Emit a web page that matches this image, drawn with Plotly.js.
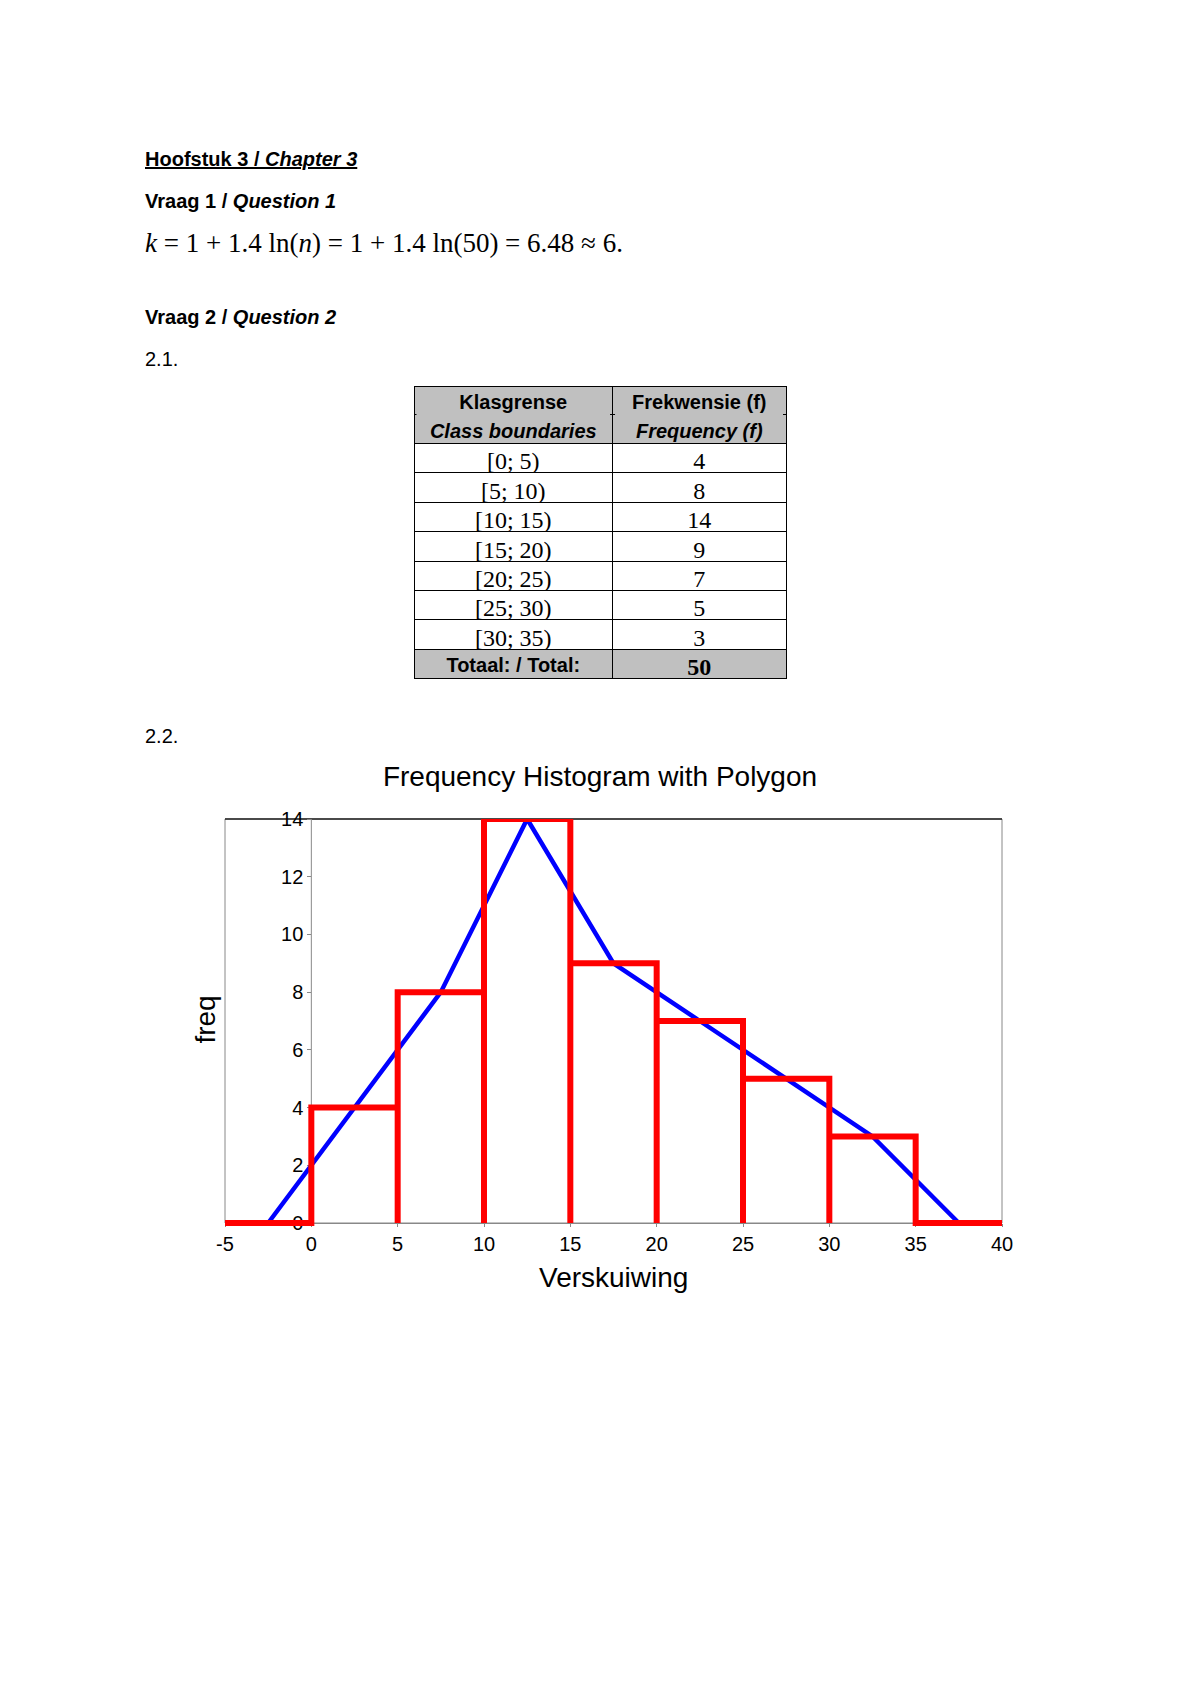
<!DOCTYPE html>
<html>
<head>
<meta charset="utf-8">
<script src="https://cdn.plot.ly/plotly-3.0.1.min.js"></script>
<style>
  html, body { margin: 0; padding: 0; background: #ffffff; }
  #page { width: 1200px; height: 1697px; }
</style>
</head>
<body>
<div id="page"></div>
<script>
// ---------------- DATA ----------------
const classLabels = ["[0; 5)", "[5; 10)", "[10; 15)", "[15; 20)", "[20; 25)", "[25; 30)", "[30; 35)"];
const classLower  = [0, 5, 10, 15, 20, 25, 30];
const classUpper  = [5, 10, 15, 20, 25, 30, 35];
const frequency   = [4, 8, 14, 9, 7, 5, 3];
const headerCol1  = ["Klasgrense", "Class boundaries"];
const headerCol2  = ["Frekwensie (f)", "Frequency (f)"];
const totalLabel  = "Totaal: / Total:";
const xTickVals   = [-5, 0, 5, 10, 15, 20, 25, 30, 35, 40];
const xTickText   = ["-5", "0", "5", "10", "15", "20", "25", "30", "35", "40"];
const yTickVals   = [0, 2, 4, 6, 8, 10, 12, 14];
const yTickText   = ["0", "2", "4", "6", "8", "10", "12", "14"];
const xRange      = [-5, 40];
const yRange      = [0, 14];

// ---------------- PAGE GEOMETRY ----------------
const W = 1200, H = 1697;
const fx = px => px / W;
const fy = py => 1 - py / H;

const SANS  = "Liberation Sans, Arial, sans-serif";
const SERIF = "Liberation Serif, Times New Roman, serif";

// plot area in pixels
const PL = 225, PR = 1002, PT = 819, PB = 1223;
const pxPerY = (PB - PT) / (yRange[1] - yRange[0]);
const PADB = 5;   // let the bottom lines show fully below the axis

// table geometry in pixels
const TL = 414, TR = 786, TT = 386;
const HEAD_ROW = 28.7, BODY_ROW = 29.4;
const COLW = [198, 173];

// ---------------- DERIVED SERIES ----------------
const total = frequency.reduce((a, b) => a + b, 0);

// histogram outline (bars as open rectangles standing on the axis)
const histX = [xRange[0], classLower[0]];
const histY = [0, 0];
for (let i = 0; i < frequency.length; i++) {
  histX.push(classLower[i], classLower[i], classUpper[i], classUpper[i]);
  histY.push(0, frequency[i], frequency[i], 0);
}
histX.push(xRange[1]);
histY.push(0);

// frequency polygon through class midpoints, closed to zero half a class outside
const w0 = classUpper[0] - classLower[0];
const wN = classUpper[classUpper.length - 1] - classLower[classLower.length - 1];
const polyX = [classLower[0] - w0 / 2];
const polyY = [0];
for (let i = 0; i < frequency.length; i++) {
  polyX.push((classLower[i] + classUpper[i]) / 2);
  polyY.push(frequency[i]);
}
polyX.push(classUpper[classUpper.length - 1] + wN / 2);
polyY.push(0);

// ---------------- TABLE ----------------
const nRows = classLabels.length + 1;
const col1 = classLabels.concat([totalLabel]);
const col2 = frequency.map(String).concat([String(total)]);
const fillCol = [], famCol1 = [], sizeCol1 = [], weightCol = [];
for (let r = 0; r < nRows; r++) {
  const isTotal = r === nRows - 1;
  fillCol.push(isTotal ? "#c0c0c0" : "#ffffff");
  famCol1.push(isTotal ? SANS : SERIF);
  sizeCol1.push(isTotal ? 20 : 24);
  weightCol.push(isTotal ? "bold" : "normal");
}
const tableBottom = TT + 2 * HEAD_ROW + nRows * BODY_ROW;

const tableTrace = {
  type: "table",
  domain: { x: [fx(TL), fx(TR)], y: [fy(tableBottom + 4), fy(TT)] },
  columnwidth: COLW,
  header: {
    values: [headerCol1, headerCol2],
    height: HEAD_ROW,
    align: "center",
    fill: { color: "#c0c0c0" },
    line: { color: "#000000", width: 1 },
    font: { family: SANS, size: 20, color: "#000000", weight: "bold",
            style: [["normal", "italic"], ["normal", "italic"]] }
  },
  cells: {
    values: [col1, col2],
    height: BODY_ROW,
    align: "center",
    fill: { color: [fillCol, fillCol] },
    line: { color: "#000000", width: 1 },
    font: { family: [famCol1, SERIF], size: [sizeCol1, 24], color: "#000000",
            weight: [weightCol, weightCol] }
  }
};

// ---------------- CHART TRACES ----------------
const polygonTrace = {
  type: "scatter", mode: "lines",
  x: polyX, y: polyY, xaxis: "x", yaxis: "y",
  line: { color: "#0000ff", width: 4.5 },
  hoverinfo: "skip", showlegend: false
};
const histTrace = {
  type: "scatter", mode: "lines",
  x: histX, y: histY, xaxis: "x", yaxis: "y",
  line: { color: "#ff0000", width: 6 },
  hoverinfo: "skip", showlegend: false
};

const xDomain = [fx(PL), fx(PR)];
const yAxisPos = xDomain[0] + (0 - xRange[0]) / (xRange[1] - xRange[0]) * (xDomain[1] - xDomain[0]);
const divX = TL + (TR - TL) * COLW[0] / (COLW[0] + COLW[1]);
const headSplitY = TT + HEAD_ROW;

const layout = {
  width: W, height: H,
  margin: { l: 0, r: 0, t: 0, b: 0, pad: 0 },
  paper_bgcolor: "#ffffff",
  plot_bgcolor: "rgba(0,0,0,0)",
  showlegend: false,
  title: {
    text: "Frequency Histogram with Polygon",
    x: 0.5, xanchor: "center", y: fy(776), yanchor: "middle",
    font: { family: SANS, size: 28, color: "#000000" }
  },
  xaxis: {
    domain: xDomain, range: xRange, anchor: "free", position: fy(PB),
    tickmode: "array", tickvals: xTickVals, ticktext: xTickText,
    ticks: "outside", ticklen: 3, tickwidth: 1, tickcolor: "#888888",
    showline: true, linecolor: "#888888", linewidth: 1,
    showgrid: false, zeroline: false, layer: "below traces",
    tickfont: { family: SANS, size: 20, color: "#000000" },
    fixedrange: true
  },
  yaxis: {
    domain: [fy(PB + PADB), fy(PT)],
    range: [yRange[0] - PADB / pxPerY, yRange[1]],
    anchor: "free", position: yAxisPos,
    tickmode: "array", tickvals: yTickVals, ticktext: yTickText,
    ticks: "outside", ticklen: 4, tickwidth: 1, tickcolor: "#888888",
    showline: false,
    showgrid: false, zeroline: false, layer: "below traces",
    tickfont: { family: SANS, size: 20, color: "#000000" },
    fixedrange: true
  },
  shapes: [
    // plot frame
    { type: "rect", xref: "paper", yref: "paper", x0: fx(PL), x1: fx(PR), y0: fy(PB), y1: fy(PT),
      line: { color: "#888888", width: 1 }, fillcolor: "rgba(0,0,0,0)", layer: "below" },
    { type: "line", xref: "paper", yref: "paper", x0: fx(PL), x1: fx(PR), y0: fy(PT), y1: fy(PT),
      line: { color: "#222222", width: 1.5 }, layer: "below" },
    // vertical axis line through x = 0
    { type: "line", xref: "x", yref: "y", x0: 0, x1: 0, y0: yRange[0], y1: yRange[1],
      line: { color: "#888888", width: 1 }, layer: "below" },
    // hide the rule between the two header lines of the table
    { type: "line", xref: "paper", yref: "paper", x0: fx(TL + 2.5), x1: fx(divX - 2.5),
      y0: fy(headSplitY), y1: fy(headSplitY), line: { color: "#c0c0c0", width: 2.5 }, layer: "above" },
    { type: "line", xref: "paper", yref: "paper", x0: fx(divX + 2.5), x1: fx(TR - 3),
      y0: fy(headSplitY), y1: fy(headSplitY), line: { color: "#c0c0c0", width: 2.5 }, layer: "above" }
  ],
  annotations: [
    { text: "<u><b>Hoofstuk 3 / <i>Chapter 3</i></b></u>", x: fx(143), y: fy(159),
      font: { family: SANS, size: 20, color: "#000000" } },
    { text: "<b>Vraag 1 / <i>Question 1</i></b>", x: fx(143), y: fy(201),
      font: { family: SANS, size: 20, color: "#000000" } },
    { text: "<i>k</i> = 1 + 1.4 ln(<i>n</i>) = 1 + 1.4 ln(50) = 6.48 ≈ 6.", x: fx(143), y: fy(243.5),
      font: { family: SERIF, size: 27, color: "#000000" } },
    { text: "<b>Vraag 2 / <i>Question 2</i></b>", x: fx(143), y: fy(317),
      font: { family: SANS, size: 20, color: "#000000" } },
    { text: "2.1.", x: fx(143), y: fy(359),
      font: { family: SANS, size: 20, color: "#000000" } },
    { text: "2.2.", x: fx(143), y: fy(736),
      font: { family: SANS, size: 20, color: "#000000" } },
    { text: "freq", x: fx(205.6), y: fy(1020), textangle: -90, xanchor: "center",
      font: { family: SANS, size: 28, color: "#000000" } },
    { text: "Verskuiwing", x: fx(613.5), y: fy(1277), xanchor: "center",
      font: { family: SANS, size: 28, color: "#000000" } }
  ].map(a => Object.assign({ xref: "paper", yref: "paper", showarrow: false,
                              xanchor: "left", yanchor: "middle" }, a))
};

Plotly.newPlot("page", [polygonTrace, histTrace, tableTrace], layout,
  { staticPlot: true, displayModeBar: false });
</script>
</body>
</html>
